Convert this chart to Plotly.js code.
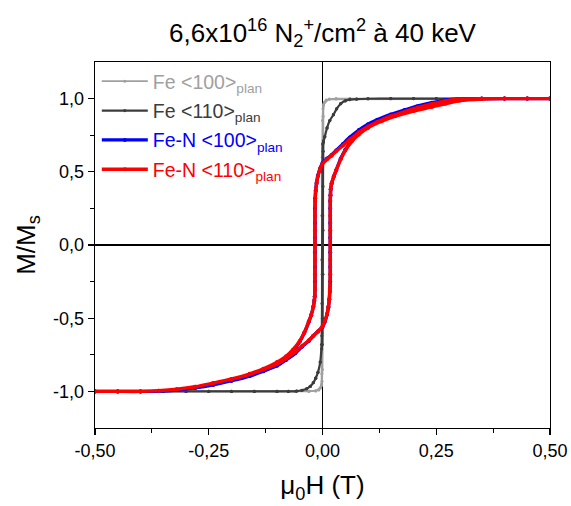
<!DOCTYPE html>
<html>
<head>
<meta charset="utf-8">
<script src="https://cdn.plot.ly/plotly-3.0.1.min.js"></script>
<style>html,body{margin:0;padding:0;background:#fff;}#chart{width:571px;height:506px;}</style>
</head>
<body>
<div id="chart"></div>
<script>
// ---- Data ----
// Fe <100>plan : light grey, nearly square loop
const fe100_desc_H = [0.5, 0.45, 0.4, 0.35, 0.3, 0.25, 0.2, 0.15, 0.1, 0.06, 0.03, 0.015, 0.009, 0.005, 0.002, 0.001, 0.0, -0.0005, -0.001, -0.001, -0.001, -0.0015, -0.002, -0.004, -0.008, -0.015, -0.03, -0.06, -0.1, -0.15, -0.2, -0.25, -0.3, -0.35, -0.4, -0.45, -0.5];
const fe100_desc_M = [1, 1, 1, 1, 1, 1, 1, 1, 1, 1, 0.998, 0.995, 0.988, 0.975, 0.96, 0.93, 0.85, 0.6, 0.2, -0.2, -0.6, -0.88, -0.95, -0.975, -0.99, -0.997, -1, -1, -1, -1, -1, -1, -1, -1, -1, -1, -1];
const fe100_asc_H = [-0.5, -0.45, -0.4, -0.35, -0.3, -0.25, -0.2, -0.15, -0.1, -0.06, -0.03, -0.015, -0.009, -0.005, -0.002, -0.001, 0.0, 0.0005, 0.001, 0.001, 0.001, 0.0015, 0.002, 0.004, 0.008, 0.015, 0.03, 0.06, 0.1, 0.15, 0.2, 0.25, 0.3, 0.35, 0.4, 0.45, 0.5];
const fe100_asc_M = [-1, -1, -1, -1, -1, -1, -1, -1, -1, -1, -0.998, -0.995, -0.988, -0.975, -0.96, -0.93, -0.85, -0.6, -0.2, 0.2, 0.6, 0.88, 0.95, 0.975, 0.99, 0.997, 1, 1, 1, 1, 1, 1, 1, 1, 1, 1, 1];

// Fe <110>plan : dark grey
const fe110_desc_H = [0.5, 0.45, 0.4, 0.35, 0.3, 0.25, 0.2, 0.15, 0.1, 0.075, 0.06, 0.05, 0.04, 0.031, 0.024, 0.016, 0.01, 0.005, 0.002, 0.0005, 0.0, -0.0005, -0.001, -0.001, -0.0015, -0.002, -0.005, -0.01, -0.015, -0.02, -0.027, -0.035, -0.045, -0.057, -0.075, -0.1, -0.15, -0.2, -0.25, -0.3, -0.35, -0.4, -0.45, -0.5];
const fe110_desc_M = [1, 1, 1, 1, 1, 1, 1, 1, 0.999, 0.997, 0.993, 0.985, 0.965, 0.93, 0.89, 0.85, 0.8, 0.74, 0.71, 0.69, 0.5, 0.2, -0.1, -0.4, -0.62, -0.68, -0.8, -0.87, -0.91, -0.94, -0.966, -0.982, -0.992, -0.998, -1, -1, -1, -1, -1, -1, -1, -1, -1, -1];
const fe110_asc_H = [-0.5, -0.45, -0.4, -0.35, -0.3, -0.25, -0.2, -0.15, -0.1, -0.075, -0.057, -0.045, -0.035, -0.027, -0.02, -0.015, -0.01, -0.005, -0.002, -0.0005, 0.0, 0.0005, 0.001, 0.001, 0.0015, 0.002, 0.005, 0.01, 0.016, 0.024, 0.031, 0.04, 0.05, 0.06, 0.075, 0.1, 0.15, 0.2, 0.25, 0.3, 0.35, 0.4, 0.45, 0.5];
const fe110_asc_M = [-1, -1, -1, -1, -1, -1, -1, -1, -1, -1, -0.998, -0.992, -0.982, -0.966, -0.94, -0.91, -0.87, -0.8, -0.71, -0.68, -0.5, -0.2, 0.1, 0.4, 0.64, 0.7, 0.74, 0.8, 0.85, 0.89, 0.93, 0.965, 0.985, 0.993, 0.997, 0.999, 1, 1, 1, 1, 1, 1, 1, 1];

// Fe-N <100>plan : blue
const fen100_desc_H = [0.5, 0.45, 0.4, 0.35, 0.3, 0.27, 0.24, 0.21, 0.18, 0.15, 0.12, 0.1, 0.08, 0.06, 0.045, 0.03, 0.02, 0.01, 0.0, -0.005, -0.01, -0.013, -0.015, -0.016, -0.0165, -0.0165, -0.0165, -0.0165, -0.0165, -0.0165, -0.0165, -0.017, -0.018, -0.02, -0.025, -0.03, -0.04, -0.05, -0.065, -0.08, -0.1, -0.13, -0.16, -0.2, -0.24, -0.28, -0.32, -0.36, -0.4, -0.45, -0.5];
const fen100_desc_M = [1, 1, 1, 1, 0.998, 0.99, 0.972, 0.95, 0.922, 0.892, 0.855, 0.825, 0.785, 0.735, 0.69, 0.645, 0.615, 0.59, 0.56, 0.525, 0.475, 0.425, 0.37, 0.32, 0.25, 0.15, 0.05, -0.05, -0.15, -0.25, -0.3, -0.35, -0.38, -0.42, -0.48, -0.525, -0.6, -0.66, -0.725, -0.77, -0.815, -0.86, -0.893, -0.927, -0.955, -0.976, -0.99, -0.998, -1, -1, -1];
const fen100_asc_H = [-0.5, -0.45, -0.4, -0.36, -0.32, -0.28, -0.24, -0.2, -0.16, -0.13, -0.1, -0.08, -0.06, -0.045, -0.03, -0.02, -0.01, 0.0, 0.005, 0.01, 0.013, 0.015, 0.016, 0.017, 0.017, 0.017, 0.017, 0.017, 0.017, 0.017, 0.0175, 0.018, 0.02, 0.025, 0.03, 0.04, 0.05, 0.065, 0.08, 0.1, 0.13, 0.16, 0.2, 0.24, 0.27, 0.3, 0.35, 0.4, 0.45, 0.5];
const fen100_asc_M = [-1, -1, -1, -0.998, -0.99, -0.976, -0.955, -0.927, -0.895, -0.862, -0.825, -0.785, -0.74, -0.695, -0.655, -0.62, -0.59, -0.56, -0.525, -0.475, -0.425, -0.37, -0.32, -0.25, -0.15, -0.05, 0.05, 0.15, 0.25, 0.3, 0.34, 0.38, 0.42, 0.47, 0.51, 0.59, 0.65, 0.715, 0.765, 0.815, 0.86, 0.893, 0.927, 0.955, 0.975, 0.99, 0.999, 1, 1, 1];

// Fe-N <110>plan : red
const fen110_desc_H = [0.5, 0.45, 0.4, 0.35, 0.3, 0.27, 0.24, 0.21, 0.18, 0.15, 0.12, 0.1, 0.08, 0.06, 0.045, 0.03, 0.02, 0.01, 0.0, -0.005, -0.01, -0.013, -0.015, -0.016, -0.0165, -0.0165, -0.0165, -0.0165, -0.0165, -0.0165, -0.017, -0.018, -0.02, -0.025, -0.03, -0.04, -0.05, -0.065, -0.08, -0.1, -0.13, -0.16, -0.2, -0.24, -0.28, -0.32, -0.36, -0.4, -0.45, -0.5];
const fen110_desc_M = [1, 1, 1, 1, 0.997, 0.985, 0.963, 0.94, 0.91, 0.88, 0.84, 0.81, 0.77, 0.72, 0.68, 0.64, 0.61, 0.585, 0.555, 0.52, 0.47, 0.42, 0.37, 0.3, 0.2, 0.1, 0.0, -0.1, -0.2, -0.3, -0.35, -0.38, -0.42, -0.48, -0.52, -0.6, -0.655, -0.715, -0.76, -0.8, -0.845, -0.88, -0.915, -0.943, -0.968, -0.985, -0.995, -1, -1, -1];
const fen110_asc_H = [-0.5, -0.45, -0.4, -0.36, -0.32, -0.28, -0.24, -0.2, -0.16, -0.13, -0.1, -0.08, -0.06, -0.045, -0.03, -0.02, -0.01, 0.0, 0.005, 0.01, 0.013, 0.015, 0.016, 0.017, 0.017, 0.017, 0.017, 0.017, 0.017, 0.0175, 0.018, 0.02, 0.025, 0.03, 0.04, 0.05, 0.065, 0.08, 0.1, 0.13, 0.16, 0.2, 0.24, 0.27, 0.3, 0.35, 0.4, 0.45, 0.5];
const fen110_asc_M = [-1, -1, -1, -0.995, -0.985, -0.968, -0.943, -0.915, -0.883, -0.85, -0.812, -0.775, -0.73, -0.69, -0.65, -0.62, -0.59, -0.555, -0.52, -0.47, -0.42, -0.37, -0.3, -0.2, -0.1, 0.0, 0.1, 0.2, 0.3, 0.34, 0.38, 0.42, 0.47, 0.51, 0.585, 0.645, 0.71, 0.755, 0.8, 0.845, 0.88, 0.915, 0.943, 0.965, 0.985, 0.997, 1, 1, 1];

// Tick labels
const xTickVals = [-0.5, -0.25, 0, 0.25, 0.5];
const xTickText = ['-0,50', '-0,25', '0,00', '0,25', '0,50'];
const xMinorVals = [-0.375, -0.125, 0.125, 0.375];
const yTickVals = [-1, -0.5, 0, 0.5, 1];
const yTickText = ['-1,0', '-0,5', '0,0', '0,5', '1,0'];
const yMinorVals = [-0.75, -0.25, 0.25, 0.75];

// Series names and colours
const names = [
  '<span style="color:#a0a0a0">Fe &lt;100&gt;<sub>plan</sub></span>',
  '<span style="color:#3c3c3c">Fe &lt;110&gt;<sub>plan</sub></span>',
  '<span style="color:#0000ff">Fe-N &lt;100&gt;<sub>plan</sub></span>',
  '<span style="color:#ff0000">Fe-N &lt;110&gt;<sub>plan</sub></span>'
];
const colors = ['#a0a0a0', '#3c3c3c', '#0000ff', '#ff0000'];

function loop(dH, dM, aH, aM) { return {x: dH.concat(aH), y: dM.concat(aM)}; }
const loops = [
  loop(fe100_desc_H, fe100_desc_M, fe100_asc_H, fe100_asc_M),
  loop(fe110_desc_H, fe110_desc_M, fe110_asc_H, fe110_asc_M),
  loop(fen100_desc_H, fen100_desc_M, fen100_asc_H, fen100_asc_M),
  loop(fen110_desc_H, fen110_desc_M, fen110_asc_H, fen110_asc_M)
];
const widths = [1.8, 2.2, 3.4, 3.4];
const msizes = [3, 3.2, 4, 4];
const shapes = ['linear', 'spline', 'spline', 'spline'];

const traces = loops.map((l, i) => ({
  x: l.x, y: l.y, type: 'scatter', mode: 'lines+markers', name: names[i],
  legendgroup: 'g' + i,
  line: {color: colors[i], width: widths[i], shape: shapes[i], smoothing: 0.6},
  marker: {color: colors[i], size: msizes[i]}
}));

const axisCommon = {
  showline: true, linecolor: '#000', linewidth: 1.3, mirror: true,
  ticks: 'outside', ticklen: 6, tickwidth: 1.2, tickcolor: '#000',
  showgrid: false, zeroline: true, zerolinecolor: '#000', zerolinewidth: 1.2,
  tickfont: {size: 18, color: '#000'}
};

const layout = {
  width: 571, height: 506,
  margin: {l: 95, r: 21, t: 62, b: 78},
  paper_bgcolor: '#fff', plot_bgcolor: '#fff',
  font: {family: '"Liberation Sans", Arial, sans-serif', color: '#000'},
  showlegend: true,
  title: {
    text: '6,6x10<sup>16</sup> N<sub>2</sub><sup>+</sup>/cm<sup>2</sup> à 40 keV',
    font: {size: 26, color: '#000'},
    x: 0.5, xref: 'paper', xanchor: 'center', y: 0.935, yref: 'container', yanchor: 'middle'
  },
  xaxis: Object.assign({}, axisCommon, {
    range: [-0.5, 0.5], tickmode: 'array', tickvals: xTickVals, ticktext: xTickText,
    minor: {tickmode: 'array', tickvals: xMinorVals, ticks: 'outside', ticklen: 3.5, tickcolor: '#000', tickwidth: 1},
    title: {text: 'μ<sub>0</sub>H (T)', font: {size: 26, color: '#000'}, standoff: 16}
  }),
  yaxis: Object.assign({}, axisCommon, {
    range: [-1.25, 1.25], tickmode: 'array', tickvals: yTickVals, ticktext: yTickText,
    minor: {tickmode: 'array', tickvals: yMinorVals, ticks: 'outside', ticklen: 3.5, tickcolor: '#000', tickwidth: 1},
    title: {text: 'M/M<sub>s</sub>', font: {size: 26, color: '#000'}, standoff: 10}
  }),
  legend: {
    x: 0.004, y: 1.0, xanchor: 'left', yanchor: 'top', bgcolor: 'rgba(0,0,0,0)',
    font: {size: 19.5}, itemwidth: 46, tracegroupgap: 1
  }
};

Plotly.newPlot('chart', traces, layout, {displayModeBar: false, staticPlot: true});
</script>
</body>
</html>
